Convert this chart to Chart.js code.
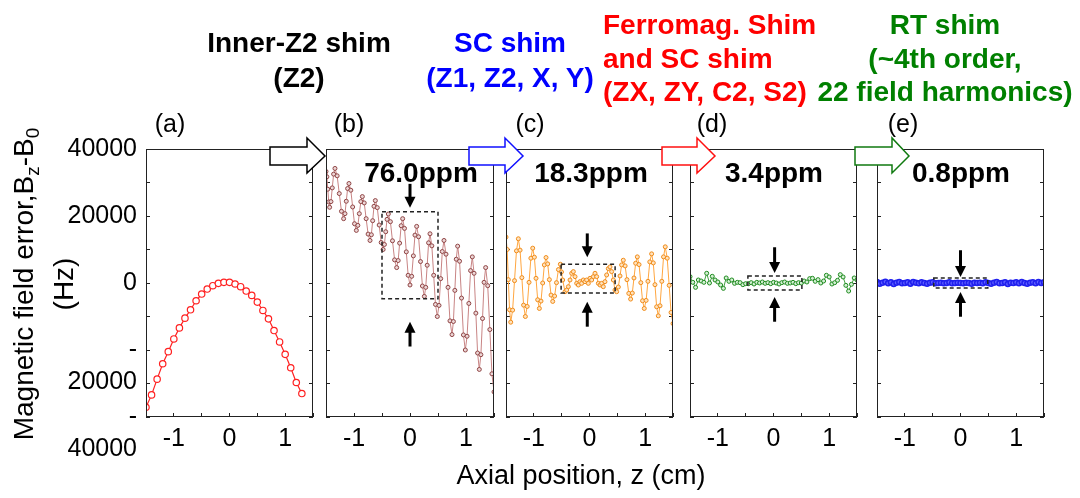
<!DOCTYPE html>
<html>
<head>
<meta charset="utf-8">
<script src="https://cdn.jsdelivr.net/npm/chart.js@4.4.0/dist/chart.umd.min.js"></script>
<style>
body { margin: 0; background: #fff; }
#wrap { position: relative; width: 1080px; height: 498px; overflow: hidden; background: #fff;
        font-family: "Liberation Sans", Arial, sans-serif; }
canvas { position: absolute; top: 0; }
svg { position: absolute; left: 0; top: 0; }
.t { position: absolute; white-space: nowrap; color: #000; }
.b { font-weight: bold; font-size: 28px; }
.c { transform: translateX(-50%); text-align: center; }
.lab { font-size: 25px; line-height: 30px; }
</style>
</head>
<body>
<div id="wrap">
  <canvas id="pa" width="330" height="498" style="left:0px"></canvas>
  <canvas id="pb" width="208" height="498" style="left:306px"></canvas>
  <canvas id="pc" width="207" height="498" style="left:486px"></canvas>
  <canvas id="pd" width="207" height="498" style="left:670px"></canvas>
  <canvas id="pe" width="207" height="498" style="left:857px"></canvas>

  <!-- block arrows between the panels -->
  <svg width="1080" height="498">
    <polygon points="270,147 307,147 307,138 325,156 307,173 307,165 270,165" fill="#fff" stroke="#000" stroke-width="1.5"/>
    <polygon points="469,147 505,147 505,138 523,156 505,173 505,165 469,165" fill="#fff" stroke="#1010ff" stroke-width="1.5"/>
    <polygon points="662,147 697,147 697,138 715,156 697,173 697,165 662,165" fill="#fff" stroke="#ff1010" stroke-width="1.5"/>
    <polygon points="855,147 892,147 892,138 909,156 892,173 892,165 855,165" fill="#fff" stroke="#107a10" stroke-width="1.5"/>
  </svg>

  <div class="t b c" style="left:299px;top:25px;line-height:35px">Inner-Z2 shim<br>(Z2)</div>
  <div class="t b c" style="left:510px;top:25px;line-height:35px;color:#0000ff">SC shim<br>(Z1, Z2, X, Y)</div>
  <div class="t b" style="left:603px;top:8px;line-height:33.5px;color:#ff0000">Ferromag. Shim<br>and SC shim<br>(ZX, ZY, C2, S2)</div>
  <div class="t b c" style="left:945px;top:8px;line-height:33.5px;color:#008000">RT shim<br>(~4th order,<br>22 field harmonics)</div>

  <div class="t lab c" style="left:170px;top:108px">(a)</div>
  <div class="t lab c" style="left:349px;top:108px">(b)</div>
  <div class="t lab c" style="left:530px;top:108px">(c)</div>
  <div class="t lab c" style="left:712px;top:108px">(d)</div>
  <div class="t lab c" style="left:903px;top:108px">(e)</div>

  <div class="t b c" style="left:421px;top:155px;line-height:35px">76.0ppm</div>
  <div class="t b c" style="left:591px;top:155px;line-height:35px">18.3ppm</div>
  <div class="t b c" style="left:774px;top:155px;line-height:35px">3.4ppm</div>
  <div class="t b c" style="left:961px;top:155px;line-height:35px">0.8ppm</div>

  <div class="t c" style="left:581px;top:459px;font-size:27px;line-height:32px">Axial position, z (cm)</div>
  <div class="t" style="left:43px;top:284px;font-size:28px;line-height:37px;text-align:center;transform:translate(-50%,-50%) rotate(-90deg)">Magnetic field error,B<span style="font-size:19px;position:relative;top:6px">z</span>-B<span style="font-size:19px;position:relative;top:6px">0</span><br>(Hz)</div>
</div>

<script>
const FONT = '"Liberation Sans", Arial, sans-serif';

// tick labels
const xTickLabels = [-1, 0, 1];
const yTickLabels = [40000, 20000, 0, -20000, -40000];

// (a) after inner-Z2 shim
const zA = [-1.5, -1.4, -1.3, -1.2, -1.1, -1.0, -0.9, -0.8, -0.7, -0.6, -0.5, -0.4, -0.3, -0.2, -0.1,
            0.0, 0.1, 0.2, 0.3, 0.4, 0.5, 0.6, 0.7, 0.8, 0.9, 1.0, 1.1, 1.2, 1.3];
const vA = [-37100, -33400, -28700, -24100, -20500, -16700, -13400, -10500, -8000, -5300, -3300, -1800, -800, -100, 200,
            200, -300, -1100, -2400, -3700, -5700, -8200, -10700, -14200, -17600, -21300, -25300, -29700, -33000];

// (b) 76.0 ppm
const zB = [-1.500, -1.484, -1.468, -1.451, -1.435, -1.411, -1.388, -1.364, -1.340, -1.301, -1.263, -1.224,
            -1.185, -1.161, -1.138, -1.114, -1.090, -1.057, -1.024, -0.991, -0.958, -0.931, -0.905, -0.878,
            -0.851, -0.817, -0.783, -0.748, -0.714, -0.690, -0.667, -0.643, -0.619, -0.584, -0.550, -0.515,
            -0.480, -0.457, -0.434, -0.410, -0.387, -0.350, -0.313, -0.275, -0.238, -0.211, -0.185, -0.158,
            -0.131, -0.098, -0.066, -0.033, 0.000, 0.030, 0.060, 0.089, 0.119, 0.153, 0.188, 0.222,
            0.256, 0.281, 0.307, 0.332, 0.357, 0.390, 0.423, 0.455, 0.488, 0.518, 0.548, 0.577,
            0.607, 0.643, 0.679, 0.714, 0.750, 0.775, 0.801, 0.826, 0.851, 0.885, 0.920, 0.954,
            0.988, 1.019, 1.051, 1.082, 1.113, 1.144, 1.176, 1.207, 1.238, 1.266, 1.295, 1.323,
            1.351, 1.388, 1.426, 1.463, 1.500];
const vB = [33300, 31700, 28000, 24200, 22600, 24300, 28400, 32500, 34200, 32000, 26700, 21400,
            19200, 20700, 24400, 28200, 29700, 27700, 22700, 17700, 15700, 17200, 20700, 24300,
            25800, 23900, 19200, 14600, 12700, 14400, 18600, 22900, 24600, 22500, 17300, 12100,
            10000, 11500, 15300, 19000, 20600, 18300, 12600, 6900, 4600, 6700, 11900, 17100,
            19200, 16300, 9300, 2300, -600, 2000, 8100, 14300, 16900, 13800, 6400, -900,
            -4000, -1300, 5300, 12000, 14700, 11100, 2300, -6400, -10000, -6700, 1300, 9400,
            12700, 8600, -1300, -11300, -15400, -11500, -2200, 7100, 11000, 6500, -4500, -15500,
            -20000, -15900, -6100, 3700, 7800, 2900, -9000, -20900, -25800, -21400, -10600, 200,
            4600, -800, -13900, -27100, -32500];

// (c) 18.3 ppm
const zC = [-1.500, -1.479, -1.458, -1.436, -1.415, -1.381, -1.347, -1.312, -1.278, -1.247, -1.215, -1.184,
            -1.152, -1.119, -1.086, -1.053, -1.020, -0.990, -0.961, -0.931, -0.901, -0.871, -0.841, -0.811,
            -0.781, -0.751, -0.721, -0.691, -0.661, -0.627, -0.593, -0.558, -0.524, -0.503,
            -0.482, -0.44, -0.41, -0.38, -0.35, -0.32, -0.29, -0.26, -0.23, -0.2, -0.171, -0.141, -0.111,
            -0.081, -0.051, -0.021, 0.009, 0.039, 0.069, 0.099, 0.129, 0.159, 0.189, 0.218, 0.248, 0.278,
            0.308, 0.338, 0.368, 0.398, 0.428, 0.458,
            0.488, 0.518, 0.548, 0.577, 0.607, 0.640, 0.673, 0.706, 0.739, 0.769, 0.799, 0.829,
            0.859, 0.890, 0.922, 0.953, 0.984, 1.017, 1.050, 1.083, 1.116, 1.146, 1.176, 1.206,
            1.236, 1.267, 1.299, 1.330, 1.361, 1.396, 1.431, 1.465, 1.500];
const vC = [13700, 10000, 1000, -8000, -11700, -8100, 700, 9600, 13200, 9800, 1600, -6600,
            -10000, -7000, 200, 7400, 10400, 7700, 1400, -5000, -7600, -5400, 0, 5400,
            7600, 5700, 1000, -3600, -5500, -3900, 100, 4000, 5600, 3300,
            900, -2600, -2100, -1100, 900, 2900, 3400, 1900, -100, -600, 400, -100, 900,
            400, 900, -100, 1400, 900, 1900, 2900, 1900, -100, -600, -100, -1100, 400,
            2400, 4300, 4800, 3400, 900, -2100,
            -2600, -1200, 2100, 5400, 6800, 5100, 1000, -3100, -4800, -3000, 1500, 5900,
            7800, 5500, 100, -5300, -7600, -5200, 500, 6300, 8700, 6000, -500, -7100,
            -9800, -6800, 500, 7800, 10800, 7400, -700, -8800, -12100];

// (d) 3.4 ppm and (e) 0.8 ppm share the same z grid
const zDE = [-1.5, -1.45, -1.4, -1.35, -1.3, -1.25, -1.2, -1.15, -1.1, -1.05, -1.0, -0.95, -0.9, -0.85, -0.8,
             -0.75, -0.7, -0.65, -0.6, -0.55, -0.5, -0.45, -0.4, -0.35, -0.3, -0.25, -0.2, -0.15, -0.1, -0.05,
             0.0, 0.05, 0.1, 0.15, 0.2, 0.25, 0.3, 0.35, 0.4, 0.45, 0.5, 0.55, 0.6, 0.65, 0.7,
             0.75, 0.8, 0.85, 0.9, 0.95, 1.0, 1.05, 1.1, 1.15, 1.2, 1.25, 1.3, 1.35, 1.4, 1.45, 1.5];
const vD = [1900, 200, -1300, 900, 600, 200, 2900, 0, 2000, 900, 300, -600, -1600, 1500, 500,
            900, -100, 200, 100, -500, -200, -200, 100, -300, 200, 0, 300, -100, 100, -200,
            200, 0, -300, 100, 300, -100, 0, 200, -200, 100, 0, 600, 300, 1300, 1400,
            500, 1000, 0, 600, 2300, 1800, -300, 100, 800, 2500, 1800, -700, -2400, -400, 1500, 900];
const vE = [300, -200, 100, 400, -100, 200, -300, 100, 300, -100, 0, 200, -200, 300, 100,
            -100, 200, 0, -200, 100, 200, -100, 0, 100, -100, 0, 200, -100, 0, 100,
            0, -100, 100, 0, -200, 100, 0, 100, -100, 200, 0, -200, 100, 300, -100,
            0, 200, -300, 100, 0, 200, -100, 300, 0, -200, 100, 200, -100, 300, 0, 200];

const pts = (zs, vs) => zs.map((z, i) => ({x: z, y: vs[i]}));

// frame, dashed zoom box and the two small black arrows
function vArrow(ctx, x, yTail, yTip) {
    const dir = Math.sign(yTip - yTail);
    ctx.lineWidth = 3;
    ctx.beginPath();
    ctx.moveTo(x, yTail);
    ctx.lineTo(x, yTip - dir * 9);
    ctx.stroke();
    ctx.beginPath();
    ctx.moveTo(x, yTip);
    ctx.lineTo(x - 5.5, yTip - dir * 11);
    ctx.lineTo(x + 5.5, yTip - dir * 11);
    ctx.closePath();
    ctx.fill();
}

const framePlugin = {
    id: 'frame',
    afterDatasetsDraw(chart, args, opts) {
        const {ctx, chartArea: a} = chart;
        const x = chart.scales.x, y = chart.scales.y;
        ctx.save();
        if (opts.box) {
            const b = opts.box;
            const x0 = x.getPixelForValue(b.z0), x1 = x.getPixelForValue(b.z1);
            const y0 = y.getPixelForValue(b.v0), y1 = y.getPixelForValue(b.v1);
            ctx.strokeStyle = '#222';
            ctx.lineWidth = 1.5;
            ctx.setLineDash([4, 3]);
            ctx.strokeRect(x0, y0, x1 - x0, y1 - y0);
            ctx.setLineDash([]);
            ctx.strokeStyle = '#000';
            ctx.fillStyle = '#000';
            const xa = x.getPixelForValue(b.za);
            vArrow(ctx, xa, y.getPixelForValue(b.down[0]), y.getPixelForValue(b.down[1]));
            vArrow(ctx, xa, y.getPixelForValue(b.up[0]), y.getPixelForValue(b.up[1]));
        }
        ctx.strokeStyle = '#222';
        ctx.lineWidth = 1;
        ctx.strokeRect(Math.round(a.left) + 0.5, Math.round(a.top) + 0.5,
                       Math.round(a.width) - 1, Math.round(a.height) - 1);
        ctx.restore();
    }
};

function makePanel(id, data, style, opt) {
    const showY = !!opt.yWidth;
    new Chart(document.getElementById(id), {
        type: 'line',
        data: {
            datasets: [Object.assign({
                data: data,
                tension: 0,
                pointStyle: 'circle'
            }, style)]
        },
        plugins: [framePlugin],
        options: {
            responsive: false,
            animation: false,
            events: [],
            layout: {padding: {left: opt.padL, right: opt.padR, top: 149, bottom: 41}},
            plugins: {legend: {display: false}, tooltip: {enabled: false}, frame: {box: opt.box}},
            scales: {
                x: {
                    type: 'linear', min: -1.5, max: 1.5, position: 'bottom',
                    afterFit: s => { s.height = 40; },
                    border: {display: false},
                    grid: {drawOnChartArea: false, tickLength: -4, color: '#222'},
                    ticks: {
                        stepSize: 0.5, autoSkip: false, maxRotation: 0, minRotation: 0,
                        padding: 11, color: '#000', font: {family: FONT, size: 25},
                        callback: v => {
                            const hit = xTickLabels.find(t => Math.abs(t - v) < 1e-6);
                            return hit === undefined ? '' : String(hit);
                        }
                    }
                },
                y: {
                    type: 'linear', min: -40000, max: 40000, position: 'left',
                    afterFit: s => { s.width = opt.yWidth || 0; },
                    border: {display: false},
                    grid: {drawOnChartArea: false, tickLength: -4, color: '#222'},
                    ticks: {
                        display: showY, stepSize: 10000, autoSkip: false, padding: 13, color: '#000',
                        font: {family: FONT, size: 25, lineHeight: '32px'},
                        callback: v => {
                            const hit = yTickLabels.find(t => Math.abs(t - v) < 1e-6);
                            if (hit === undefined) return '';
                            // negative labels are wrapped in the original figure
                            return hit < 0 ? ['', '-', String(-hit)] : String(hit);
                        }
                    }
                },
                y2: {
                    type: 'linear', min: -40000, max: 40000, position: 'right',
                    afterFit: s => { s.width = 0; },
                    border: {display: false},
                    grid: {drawOnChartArea: false, tickLength: -4, color: '#222'},
                    ticks: {display: false, stepSize: 10000, autoSkip: false}
                }
            }
        }
    });
}

makePanel('pa', pts(zA, vA), {
    borderColor: '#ff2020', borderWidth: 1.2, pointRadius: 3.2, pointBorderWidth: 1.2,
    pointBorderColor: '#ff2020', pointBackgroundColor: '#fff'
}, {padL: 0, padR: 17, yWidth: 146});

makePanel('pb', pts(zB, vB), {
    borderColor: '#c88484', borderWidth: 1, pointRadius: 2, pointBorderWidth: 1,
    pointBorderColor: '#8f4545', pointBackgroundColor: '#ecd6d6'
}, {padL: 20, padR: 20,
    box: {z0: -0.5, z1: 0.5, v0: 21300, v1: -4700, za: 0, down: [29600, 22500], up: [-18960, -11550]}});

makePanel('pc', pts(zC, vC), {
    borderColor: '#ffa640', borderWidth: 1, pointRadius: 2, pointBorderWidth: 1,
    pointBorderColor: '#f08c1a', pointBackgroundColor: '#ffe2bd'
}, {padL: 20, padR: 20,
    box: {z0: -0.51, z1: 0.46, v0: 5600, v1: -3000, za: -0.04, down: [14800, 7700], up: [-13040, -5630]}});

makePanel('pd', pts(zDE, vD), {
    borderColor: '#40a040', borderWidth: 1, pointRadius: 2, pointBorderWidth: 1,
    pointBorderColor: '#1e8a1e', pointBackgroundColor: '#d4f0d4'
}, {padL: 20, padR: 20,
    box: {z0: -0.46, z1: 0.51, v0: 2070, v1: -2070, za: 0.02, down: [10670, 2960], up: [-11560, -4150]}});

makePanel('pe', pts(zDE, vE), {
    borderColor: '#3030ff', borderWidth: 4, pointRadius: 2.5, pointBorderWidth: 1.5,
    pointBorderColor: '#2020ee', pointBackgroundColor: '#6060ff'
}, {padL: 20, padR: 20,
    box: {z0: -0.48, z1: 0.49, v0: 1480, v1: -1480, za: 0, down: [9780, 1780], up: [-10070, -2670]}});
</script>
</body>
</html>
